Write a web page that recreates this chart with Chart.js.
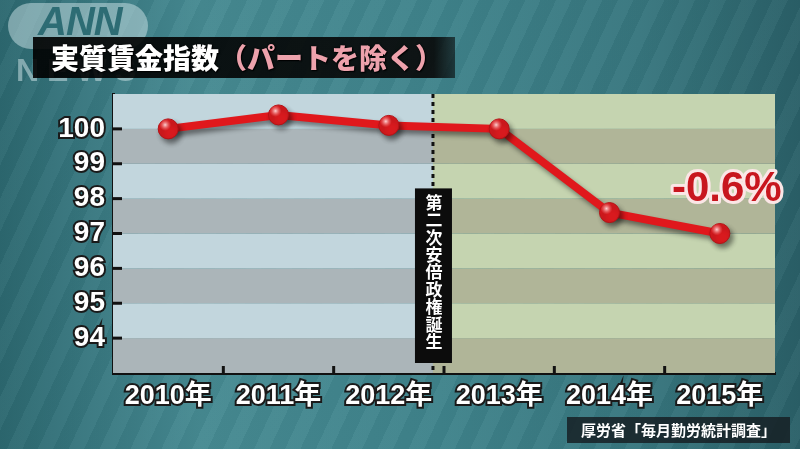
<!DOCTYPE html>
<html>
<head>
<meta charset="utf-8">
<script src="https://cdn.jsdelivr.net/npm/chart.js@4"></script>
<style>
  body { margin: 0; background: #2f6f78; }
  #stage {
    position: relative; width: 800px; height: 449px; overflow: hidden;
    background:
      repeating-linear-gradient(115deg, rgba(255,255,255,0.03) 0 14px, rgba(0,0,0,0.03) 14px 28px),
      linear-gradient(90deg, #2c6870 0%, #468a92 25%, #3f838b 55%, #37767e 80%, #2a6068 100%);
    font-family: "Noto Sans CJK JP", sans-serif;
  }
  #chart { position: absolute; left: 0; top: 0; }
  .logo {
    position: absolute; left: 8px; top: 3px; width: 140px; height: 46px;
    border-radius: 23px; background: rgba(205,228,232,0.5);
  }
  .logo .ann {
    position: absolute; left: 30px; top: -4px; font: italic bold 40px "Liberation Sans", sans-serif;
    color: #2d6c74; letter-spacing: -1px;
  }
  .news {
    position: absolute; left: 16px; top: 52px; font: bold 32px "Liberation Sans", sans-serif;
    color: rgba(200,222,226,0.55); letter-spacing: 8px;
  }
  .title {
    position: absolute; left: 33px; top: 37px; width: 422px; height: 41px;
    background: linear-gradient(90deg, rgba(0,0,0,0.9) 0%, rgba(8,8,8,0.9) 95%, rgba(8,8,8,0.6) 100%);
    font-weight: 900; font-size: 28px; line-height: 41px; padding-left: 18px; box-sizing: border-box;
    white-space: nowrap; text-shadow: 0 0 2px #000, 1px 1px 1px #000;
  }
  .title .main { color: #ffffff; }
  .title .sub { color: #eda2ac; }
  .source {
    position: absolute; left: 567px; top: 417px; width: 223px; height: 26px;
    background: rgba(22,32,36,0.85); color: #fff; font-size: 15px; font-weight: bold;
    line-height: 26px; text-align: center;
  }
</style>
</head>
<body>
<div id="stage">
  <canvas id="chart" width="800" height="449"></canvas>
  <div class="logo"><span class="ann">ANN</span></div>
  <div class="news">NEWS</div>
  <div class="title"><span class="main">実質賃金指数</span><span class="sub">（パートを除く）</span></div>
  <div class="source">厚労省「毎月勤労統計調査」</div>
</div>
<script>
// ---- data ----
const years = ['2010年', '2011年', '2012年', '2013年', '2014年', '2015年'];
const wageIndex = [100.0, 100.4, 100.1, 100.0, 97.6, 97.0];
const yTickValues = [94, 95, 96, 97, 98, 99, 100];
const changeLabel = '-0.6%';
const eraLabel = '第二次安倍政権誕生';
const eraStart = 2.4; // category position where the 2nd Abe government begins (Dec 2012)

const FONT = "'Liberation Sans', 'Noto Sans CJK JP', sans-serif";

// plot background: stripes, blue before the era line and green after
const backgroundBands = {
  id: 'backgroundBands',
  beforeDatasetsDraw(chart) {
    const { ctx, chartArea: a, scales: { x, y } } = chart;
    const eraX = x.getPixelForValue(eraStart);
    ctx.save();
    for (let v = y.min; v < y.max; v++) {
      const top = y.getPixelForValue(v + 1), bottom = y.getPixelForValue(v);
      const dark = v % 2 !== 0;
      ctx.fillStyle = dark ? '#abb5b9' : '#c2d6dd';
      ctx.fillRect(a.left, top, eraX - a.left, bottom - top);
      ctx.fillStyle = dark ? '#b0b598' : '#c5d4b0';
      ctx.fillRect(eraX, top, a.right - eraX, bottom - top);
    }

    // inward tick marks
    ctx.strokeStyle = '#111';
    ctx.lineWidth = 3;
    yTickValues.forEach(v => {
      const py = y.getPixelForValue(v);
      ctx.beginPath(); ctx.moveTo(a.left, py); ctx.lineTo(a.left + 9, py); ctx.stroke();
    });
    for (let i = 0; i < years.length - 1; i++) {
      const px = x.getPixelForValue(i + 0.5);
      ctx.beginPath(); ctx.moveTo(px, a.bottom); ctx.lineTo(px, a.bottom - 7); ctx.stroke();
    }

    // dashed era line
    ctx.setLineDash([4, 4]);
    ctx.beginPath(); ctx.moveTo(eraX, a.top); ctx.lineTo(eraX, a.bottom); ctx.stroke();
    ctx.setLineDash([]);

    // vertical era label
    const step = 17.4;
    const boxH = eraLabel.length * step + 18;
    const boxBottom = a.bottom - 10;
    ctx.fillStyle = '#0c0c0c';
    ctx.fillRect(eraX - 18, boxBottom - boxH, 37, boxH);
    ctx.fillStyle = '#fff';
    ctx.font = "bold 17px 'Noto Sans CJK JP'";
    ctx.textAlign = 'center';
    ctx.textBaseline = 'middle';
    [...eraLabel].forEach((ch, i) => {
      ctx.fillText(ch, eraX + 1, boxBottom - boxH + 14 + i * step);
    });
    ctx.restore();

    // shadow for the line
    ctx.save();
    ctx.shadowColor = 'rgba(0,0,0,0.45)';
    ctx.shadowOffsetX = 3;
    ctx.shadowOffsetY = 4;
    ctx.shadowBlur = 5;
  },
  afterDatasetsDraw(chart) {
    const { ctx } = chart;
    ctx.restore();
    const pts = chart.getDatasetMeta(0).data;
    ctx.save();
    // glossy highlights on points
    pts.forEach(p => {
      const g = ctx.createRadialGradient(p.x - 3, p.y - 4, 0, p.x - 3, p.y - 4, 6);
      g.addColorStop(0, 'rgba(255,220,220,0.95)');
      g.addColorStop(1, 'rgba(255,120,120,0)');
      ctx.fillStyle = g;
      ctx.beginPath(); ctx.arc(p.x - 3, p.y - 4, 6, 0, Math.PI * 2); ctx.fill();
    });
    // change label near the last point
    const last = pts[pts.length - 1];
    ctx.font = 'bold 42px ' + FONT;
    ctx.textAlign = 'center';
    ctx.textBaseline = 'middle';
    ctx.lineJoin = 'round';
    ctx.lineWidth = 6;
    ctx.strokeStyle = '#fbe6e6';
    ctx.strokeText(changeLabel, last.x + 7, last.y - 44);
    ctx.fillStyle = '#c8161e';
    ctx.fillText(changeLabel, last.x + 7, last.y - 44);
    ctx.restore();
  }
};

new Chart(document.getElementById('chart'), {
  type: 'line',
  data: {
    labels: years,
    datasets: [{
      data: wageIndex,
      borderColor: '#e0181c',
      borderWidth: 8,
      pointRadius: 10,
      pointHoverRadius: 10,
      pointBackgroundColor: '#d81a1e',
      pointBorderColor: '#b51216',
      pointBorderWidth: 1,
      tension: 0
    }]
  },
  options: {
    responsive: false,
    animation: false,
    events: [],
    layout: { padding: { top: 94, right: 25, left: 0, bottom: 0 } },
    plugins: { legend: { display: false }, tooltip: { enabled: false } },
    scales: {
      x: {
        offset: true,
        grid: { color: 'transparent', drawTicks: false },
        border: { color: '#111', width: 3 },
        ticks: {
          color: '#fff', padding: 7, maxRotation: 0, autoSkip: false,
          font: { family: FONT, size: 27, weight: 'bold' },
          textStrokeColor: '#1a1a1a', textStrokeWidth: 4
        },
        afterFit(scale) { scale.height = 76; }
      },
      y: {
        min: 93, max: 101,
        grid: { color: 'transparent', drawTicks: false },
        border: { color: '#111', width: 3 },
        ticks: {
          stepSize: 1, autoSkip: false, color: '#fff', padding: 8,
          font: { family: FONT, size: 28, weight: 'bold' },
          textStrokeColor: '#1a1a1a', textStrokeWidth: 4,
          callback: v => yTickValues.includes(v) ? String(v) : ''
        },
        afterFit(scale) { scale.width = 113; }
      }
    }
  },
  plugins: [backgroundBands]
});
</script>
</body>
</html>
